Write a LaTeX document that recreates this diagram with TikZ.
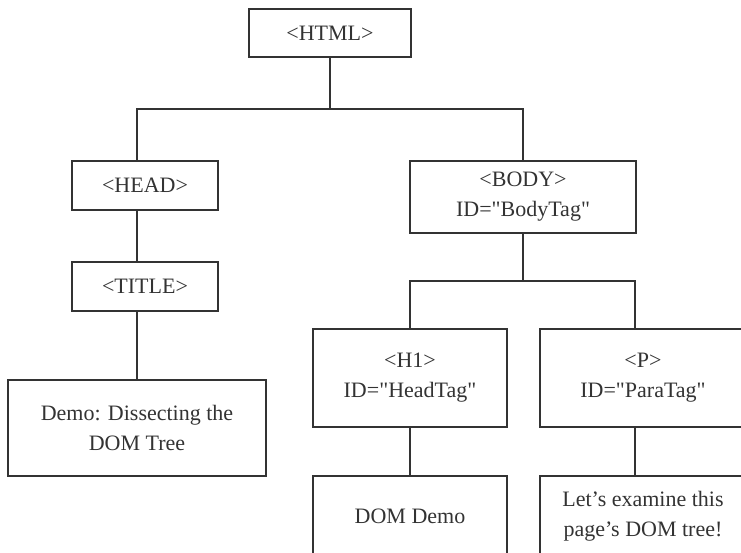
\documentclass[tikz,border=0pt]{standalone}
\usepackage{fontspec}
\setmainfont{Liberation Serif}[Ligatures=TeXOff]
\definecolor{ink}{HTML}{333333}

\begin{document}
\begin{tikzpicture}[x=1pt, y=-1pt,
    tag/.style={draw=ink, line width=1.5pt, align=center, inner sep=0pt,
      text=ink, font=\fontsize{22}{30}\selectfont},
    wire/.style={draw=ink, line width=1.5pt}]
    \useasboundingbox (0,0) rectangle (741,552);

    % root and the HEAD branch
    \node[tag, minimum width=162pt, minimum height=48pt] (html)  at (330,33)    {<HTML>};
    \node[tag, minimum width=146pt, minimum height=49pt] (head)  at (145,185.5) {<HEAD>};
    \node[tag, minimum width=146pt, minimum height=49pt] (title) at (145,286.5) {<TITLE>};
    \node[tag, minimum width=258pt, minimum height=96pt] (demo)  at (137,428)
      {Demo: Dissecting the\\DOM Tree};

    % BODY branch
    \node[tag, minimum width=226pt, minimum height=72pt] (body) at (523,197)
      {<BODY>\\ID="BodyTag"};
    \node[tag, minimum width=194pt, minimum height=98pt] (hone) at (410,378)
      {<H1>\\ID="HeadTag"};
    \node[tag, minimum width=206pt, minimum height=98pt] (para) at (643,378)
      {<P>\\ID="ParaTag"};
    \node[tag, minimum width=194pt, minimum height=80pt] (domdemo) at (410,516)
      {DOM Demo};
    \node[tag, minimum width=206pt, minimum height=80pt] (letsgo) at (643,516)
      {Let’s examine this\\page’s DOM tree!};

    \coordinate (topbar) at (330,109);
    \coordinate (midbar) at (523,281);
    \coordinate (pline)  at (635,281);

    \draw[wire] (html.south) -- (topbar);
    \draw[wire] (head.north -| demo.north) |- (topbar) -| (body.north);
    \draw[wire] (head.south -| demo.north) -- (title.north -| demo.north);
    \draw[wire] (title.south -| demo.north) -- (demo.north);

    \draw[wire] (body.south) -- (midbar);
    \draw[wire] (hone.north) |- (midbar) -- (pline) -- (para.north -| pline);
    \draw[wire] (hone.south) -- (domdemo.north);
    \draw[wire] (para.south -| pline) -- (letsgo.north -| pline);
\end{tikzpicture}
\end{document}
